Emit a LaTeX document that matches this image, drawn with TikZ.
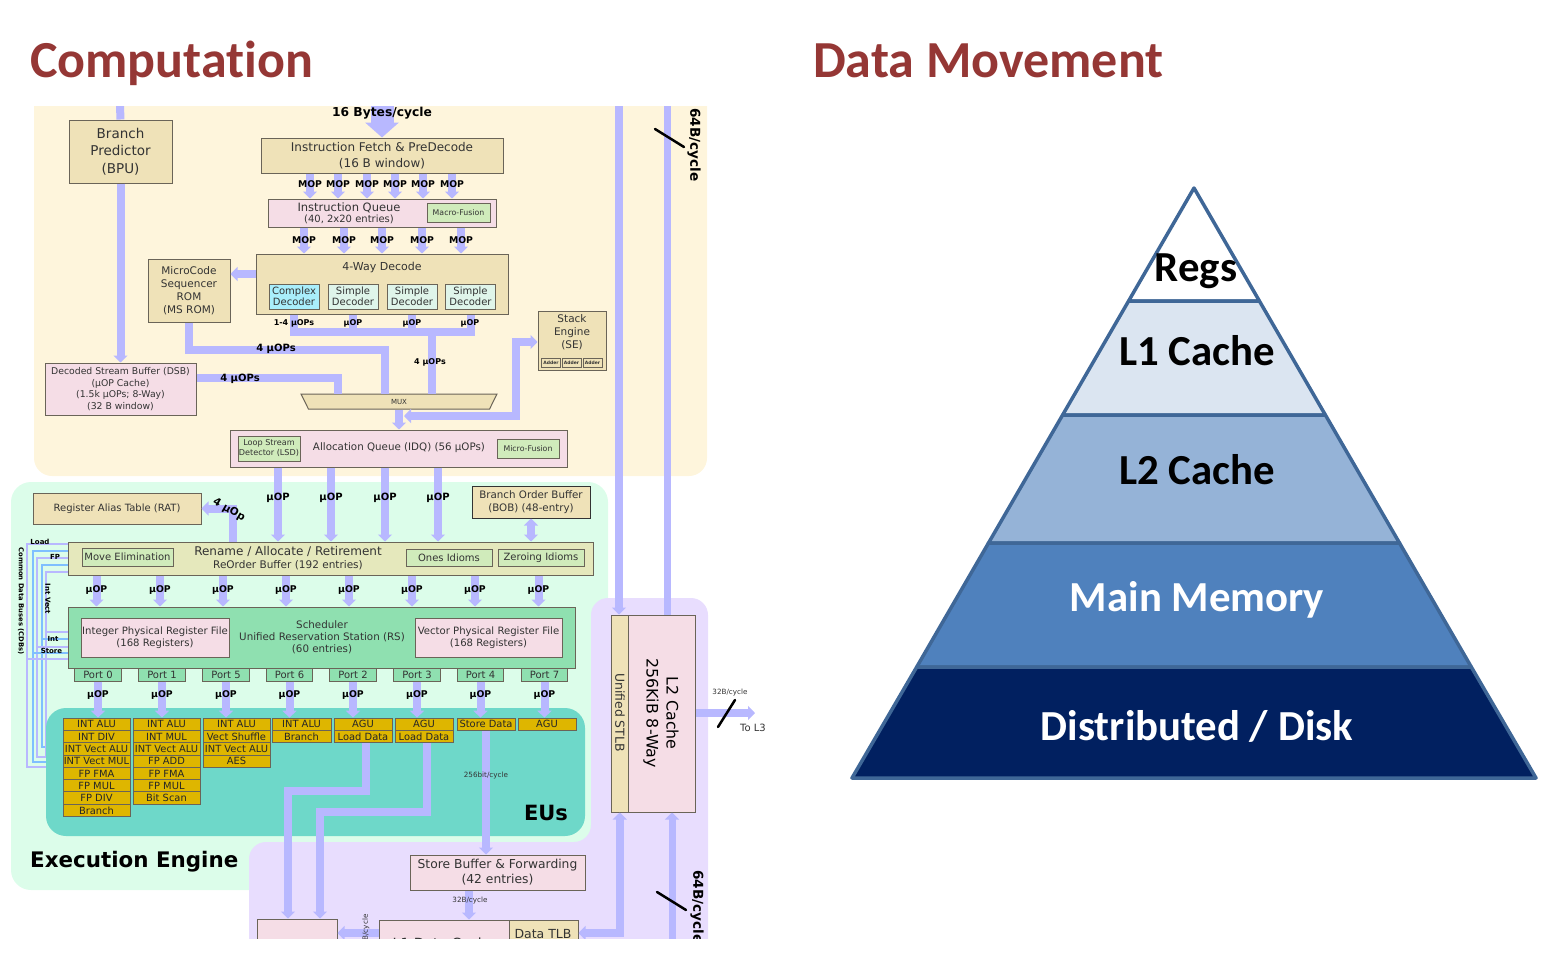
\documentclass[tikz,border=0pt]{standalone}
\usepackage{fontspec}
\setmainfont{DejaVu Sans}
\newfontfamily\calib{Carlito}[Ligatures=NoCommon]
\usetikzlibrary{arrows.meta}
\usetikzlibrary{shapes.geometric}

\definecolor{frontc}{HTML}{FEF5DC}
\definecolor{execc}{HTML}{DCFDEA}
\definecolor{memc}{HTML}{E8DDFE}
\definecolor{teale}{HTML}{6ED8C9}
\definecolor{busc}{HTML}{B8B8FF}
\definecolor{tanc}{HTML}{EFE2B8}
\definecolor{pinkc}{HTML}{F5DDE6}
\definecolor{olivec}{HTML}{E5E8BC}
\definecolor{greenc}{HTML}{D0EBBB}
\definecolor{schedc}{HTML}{8FE0B0}
\definecolor{goldc}{HTML}{DEB600}
\definecolor{cplxc}{HTML}{A9EEFB}
\definecolor{simpc}{HTML}{DFF5EA}
\definecolor{edgec}{HTML}{6A6458}
\definecolor{cdbc}{HTML}{7FBFFF}
\definecolor{titlec}{HTML}{953735}
\definecolor{pyredge}{HTML}{3F6797}
\definecolor{layb}{HTML}{DBE5F1}
\definecolor{layc}{HTML}{95B3D7}
\definecolor{layd}{HTML}{4F81BD}
\definecolor{laye}{HTML}{012060}

\tikzset{
  fs/.style 2 args={font=\fontsize{#1}{#2}\selectfont},
  unit/.style={draw=edgec, line width=1pt, inner sep=0pt, align=center, text=black!80, fs={10.5}{13}},
  tanbox/.style={unit, fill=tanc},
  pinkbox/.style={unit, fill=pinkc},
  olivebox/.style={unit, fill=olivec},
  greenbox/.style={unit, fill=greenc},
  schedbox/.style={unit, fill=schedc},
  txt/.style={inner sep=0pt, align=center, text=black!80},
  buslab/.style={inner sep=0pt, yshift=-1pt, text=black, font=\fontsize{#1}{#1}\selectfont\bfseries},
  buslab/.default=9.3,
  bus/.style={draw=busc, line width=8pt},
  cdba/.style={draw=busc, line width=1.8pt},
  cdbb/.style={draw=cdbc, line width=1.8pt},
  stackrow/.style={draw=edgec, fill=goldc, line width=.8pt, inner sep=0pt,
    minimum height=12.3pt, text=black!85, fs={9.9}{11}},
  slash/.style={line width=2.5pt, line cap=round, draw=black},
  layer/.style={draw=pyredge, line width=3.5pt, line join=round},
  pyrlab/.style={inner sep=0pt, font=\calib\fontsize{42.8}{43}\selectfont\bfseries},
  heading/.style={inner sep=0pt, anchor=base west, text=titlec, font=\calib\fontsize{52}{52}\selectfont\bfseries}
}

\begin{document}
\begin{tikzpicture}[x=1pt, y=-1pt, >={Triangle[width=14pt,length=7pt]}]
\useasboundingbox (0,0) rectangle (1556,956);

\node[heading] (comptitle) at (30,77) {Computation};
\node[heading] (datatitle) at (813,77) {Data Movement};

\begin{scope}
\clip (0,106) rectangle (1556,938);

\fill[frontc, rounded corners=18pt] (34,60) -- (34,476) -- (707,476) -- (707,60) -- cycle;
\fill[execc, rounded corners=20pt] (11,482) rectangle (608,890);
\fill[memc, rounded corners=17pt] (249,980) -- (249,842) -- (591,842) -- (591,598) -- (708,598) -- (708,980) -- cycle;

\coordinate (fetchtop) at (382,106);
\coordinate (bputop) at (120,106);
\coordinate (stlbtop) at (619,106);
\coordinate (l2top) at (667.5,106);
\coordinate (l2bot) at (672,960);
\coordinate (tol3) at (755,713);

\node[tanbox, minimum width=103pt, minimum height=63pt, fs={13.5}{17.5}] (bpu) at (120.5,151.5)
  {Branch\\Predictor\\(BPU)};
\node[tanbox, minimum width=242pt, minimum height=35pt, fs={12}{15.5}] (fetch) at (382,155.5)
  {Instruction Fetch \& PreDecode\\(16 B window)};
\node[pinkbox, minimum width=228pt, minimum height=28pt] (queue) at (382,213) {};
\node[txt, fs={11.5}{11.5}] (queuetext) at (349,213) {Instruction Queue\\[-.5pt]\fontsize{10}{11}\selectfont(40, 2x20 entries)};
\node[greenbox, minimum width=63pt, minimum height=19pt, fs={7.8}{9}] (macro) at (458.5,212.5) {Macro-Fusion};
\node[tanbox, minimum width=252pt, minimum height=60pt] (decode) at (382,284) {};
\node[txt, fs={11}{13}] (decodetext) at (382,267) {4-Way Decode};
\node[unit, fill=cplxc, minimum width=50pt, minimum height=25pt, fs={10}{11.5}] (dec0) at (294,296.5) {Complex\\Decoder};
\foreach \x [count=\i] in {353,412,470.5}
  \node[unit, fill=simpc, minimum width=50pt, minimum height=25pt, fs={10}{11.5}] (dec\i) at (\x,296.5) {Simple\\Decoder};
\node[tanbox, minimum width=82pt, minimum height=63pt] (rom) at (189,290.5)
  {MicroCode\\Sequencer\\ROM\\(MS ROM)};
\node[pinkbox, minimum width=151pt, minimum height=52pt, fs={9.3}{11.5}] (dsb) at (120.5,389)
  {Decoded Stream Buffer (DSB)\\(µOP Cache)\\(1.5k µOPs; 8-Way)\\(32 B window)};
\node[tanbox, trapezium, shape border rotate=180, trapezium angle=35, trapezium stretches body=true,
  minimum width=196pt, minimum height=15pt, fs={7}{8}] (mux) at (399,401.5) {MUX};
\node[tanbox, minimum width=68pt, minimum height=59pt] (se) at (572,340.5) {};
\node[txt, fs={10.5}{13}] (setext) at (572,332) {Stack\\Engine\\(SE)};
\foreach \x [count=\i] in {551,571.5,592.5}
  \node[unit, fill=tanc, line width=.7pt, minimum width=19pt, minimum height=9pt, font=\fontsize{4.5}{5}\selectfont\bfseries] (adder\i) at (\x,362.5) {Adder};

\node[pinkbox, minimum width=337pt, minimum height=37pt] (idq) at (398.5,448.5) {};
\node[greenbox, minimum width=62pt, minimum height=25pt, fs={8.1}{10}] (lsd) at (269,448.5) {Loop Stream\\Detector (LSD)};
\node[txt, fs={10.3}{12}] (idqtext) at (399,448) {Allocation Queue (IDQ) (56 µOPs)};
\node[greenbox, minimum width=62pt, minimum height=19pt, fs={7.8}{9}] (microf) at (528,448.5) {Micro-Fusion};

\node[tanbox, minimum width=168pt, minimum height=31pt, fs={10}{13}] (rat) at (117,508.5) {Register Alias Table (RAT)};
\node[tanbox, draw=black!80, minimum width=118pt, minimum height=32pt, fs={10.3}{13}] (bob) at (531,502)
  {Branch Order Buffer\\(BOB) (48-entry)};
\node[olivebox, minimum width=525pt, minimum height=33pt] (rename) at (330.5,558.5) {};
\node[txt, fs={12}{12.5}] (renametext) at (288,558) {Rename / Allocate / Retirement\\\fontsize{10.5}{12}\selectfont ReOrder Buffer (192 entries)};
\node[greenbox, minimum width=91pt, minimum height=18pt, fs={10}{11}] (moveel) at (127.5,557) {Move Elimination};
\node[greenbox, minimum width=86pt, minimum height=17pt, fs={10}{11}] (ones) at (449,557.5) {Ones Idioms};
\node[greenbox, minimum width=86pt, minimum height=17pt, fs={10}{11}] (zero) at (541,557.5) {Zeroing Idioms};

\node[schedbox, minimum width=507pt, minimum height=61pt] (sched) at (321.5,637.5) {};
\node[pinkbox, minimum width=148pt, minimum height=39pt, fs={10.1}{12}] (intprf) at (155,637.5)
  {Integer Physical Register File\\(168 Registers)};
\node[pinkbox, minimum width=147pt, minimum height=39pt, fs={10.1}{12}] (vecprf) at (488.5,637.5)
  {Vector Physical Register File\\(168 Registers)};
\node[txt, fs={10.3}{12}] (schedtext) at (322,637) {Scheduler\\Unified Reservation Station (RS)\\(60 entries)};
\foreach \p/\x in {0/98,1/162,5/226,6/289.5,2/353,3/417,4/480.5,7/544.5}
  \node[schedbox, minimum width=46.5pt, minimum height=13pt, fs={10}{11}] (port\p) at (\x,674.5) {Port \p};

\draw[cdba] (rename.west |- 0,544) -| (27,767) -- ++(33,0);
\draw[cdbb] (rename.west |- 0,551) -| (33,762) -- ++(33,0);
\draw[cdba] (rename.west |- 0,558) -| (37,757) -- ++(33,0);
\draw[cdbb] (rename.west |- 0,565) -| (42,747) -- ++(33,0);
\draw[cdba] (rename.west |- 0,572) -| (46,757) -- ++(33,0);
\draw[cdba] (sched.west |- 0,632) -- ++(-22,0);
\draw[cdbb] (sched.west |- 0,639) -- ++(-26,0);
\draw[cdba] (sched.west |- 0,647) -- ++(-31,0);
\draw[cdbb] (sched.west |- 0,653) -- ++(-35,0);
\draw[cdba] (sched.west |- 0,659) -- ++(-41,0);

\node[fill=teale, rounded corners=20pt, minimum width=539pt, minimum height=128pt] (eus) at (315.5,772) {};

\foreach \t [count=\i] in {INT ALU,INT DIV,INT Vect ALU,INT Vect MUL,FP FMA,FP MUL,FP DIV,Branch}
  \node[stackrow, minimum width=67pt] (stack0r\i) at (96.5,{711.9+\i*12.3}) {\t};
\foreach \t [count=\i] in {INT ALU,INT MUL,INT Vect ALU,FP ADD,FP FMA,FP MUL,Bit Scan}
  \node[stackrow, minimum width=67pt] (stack1r\i) at (166.5,{711.9+\i*12.3}) {\t};
\foreach \t [count=\i] in {INT ALU,Vect Shuffle,INT Vect ALU,AES}
  \node[stackrow, minimum width=67pt] (stack5r\i) at (236.5,{711.9+\i*12.3}) {\t};
\foreach \t [count=\i] in {INT ALU,Branch}
  \node[stackrow, minimum width=59pt] (stack6r\i) at (301.5,{711.9+\i*12.3}) {\t};
\foreach \t [count=\i] in {AGU,Load Data}
  \node[stackrow, minimum width=58pt] (stack2r\i) at (363,{711.9+\i*12.3}) {\t};
\foreach \t [count=\i] in {AGU,Load Data}
  \node[stackrow, minimum width=58pt] (stack3r\i) at (424,{711.9+\i*12.3}) {\t};
\node[stackrow, minimum width=58pt] (stack4r1) at (486,724.2) {Store Data};
\node[stackrow, minimum width=58pt] (stack7r1) at (547,724.2) {AGU};

\node[pinkbox, minimum width=175pt, minimum height=35pt, fs={12.3}{15}] (storebuf) at (497.5,872.5)
  {Store Buffer \& Forwarding\\(42 entries)};
\node[pinkbox, minimum width=80pt, minimum height=60pt] (loadbuf) at (297,949) {};
\node[pinkbox, minimum width=130pt, minimum height=46pt, fs={14}{16}] (l1d) at (444,943) {L1 Data Cache};
\node[tanbox, minimum width=69pt, minimum height=46pt] (dtlb) at (543.5,943) {};
\node[txt, fs={12.5}{14}] (dtlbtext) at (543,934) {Data TLB};
\node[tanbox, minimum width=17.5pt, minimum height=197pt] (stlb) at (619.75,713.5) {};
\node[pinkbox, minimum width=66.5pt, minimum height=197pt] (l2) at (662,713.5) {};
\node[txt, rotate=-90, fs={12.4}{13}] (stlbtext) at (620,712.5) {Unified STLB};
\node[txt, text=black, rotate=-90, fs={15.8}{20}] (l2text) at (661,713) {L2 Cache\\256KiB 8-Way};

\draw[bus] (bputop) -- (bpu.north);
\draw[bus,->] (bpu.south) -- (dsb.north -| bpu.south);
\draw[bus, line width=23pt, ->, >={Triangle[width=33pt,length=15pt]}] (fetchtop) -- (fetch.north);
\foreach \x in {310,338,367,395,423,452} {
  \draw[bus,->] (fetch.south -| \x,0) -- (queue.north -| \x,0);
  \node[buslab] (mopa\x) at (\x,183) {MOP};
}
\foreach \x in {304,344,382,422,461} {
  \draw[bus,->] (queue.south -| \x,0) -- (decode.north -| \x,0);
  \node[buslab] (mopb\x) at (\x,239) {MOP};
}
\draw[bus,->] (decode.west |- 0,274) -- (rom.east |- 0,274);
\draw[bus] (dec0.south |- decode.south) |- (dec3.south |- 0,332) -- (dec3.south |- decode.south);
\foreach \i in {1,2}
  \draw[bus] (dec\i.south |- decode.south) -- (dec\i.south |- 0,332);
\draw[bus] (mux.north -| 432,0) -- (432,328);
\draw[bus] (rom.south) |- (385,350) -- (mux.north -| 385,0);
\draw[bus] (dsb.east |- 0,378) -| (mux.north -| 338,0);
\draw[bus,->] (mux.south -| 399,0) -- (idq.north -| 399,0);
\draw[bus,<->] (se.west |- 0,342) -| (516,416) -- (404,416);
\foreach \x in {278,331,385,438} {
  \draw[bus,->] (idq.south -| \x,0) -- (rename.north -| \x,0);
  \node[buslab=10] (uopa\x) at (\x,497) {µOP};
}
\draw[bus,->] (rename.north -| 233,0) |- (rat.east);
\draw[bus,<->] (bob.south) -- (rename.north -| bob.south);
\foreach \x [count=\i] in {96.5,160,223,286,349,412,475,538.5} {
  \draw[bus,->] (rename.south -| \x,0) -- (sched.north -| \x,0);
  \node[buslab] (uopb\i) at (\x,589) {µOP};
}
\foreach \p/\x in {0/98,1/162,5/226,6/289.5,2/353,3/417,4/480.5,7/544.5} {
  \draw[bus,->] (port\p.south) -- (stack\p r1.north -| port\p.south);
  \node[buslab] (uopc\p) at (\x,694) {µOP};
}
\draw[bus,->] (stack2r2.south -| 366,0) |- (288,791) -- (loadbuf.north -| 288,0);
\draw[bus,->] (stack3r2.south -| 427,0) |- (320,812) -- (loadbuf.north -| 320,0);
\draw[bus,->] (stack4r1.south) -- (storebuf.north -| stack4r1.south);
\draw[bus,->] (storebuf.south -| 469,0) -- (l1d.north -| 469,0);
\draw[bus,->] (l1d.west |- 0,933) -- (loadbuf.east |- 0,933);
\draw[bus,<->] (dtlb.east |- 0,933) -| (stlb.south);
\draw[bus,->] (stlbtop) -- (stlb.north -| stlbtop);
\draw[bus, line width=7pt] (l2top) -- (l2.north -| l2top);
\draw[bus, line width=7pt, ->] (l2bot) -- (l2.south -| l2bot);
\draw[bus,->] (l2.east |- tol3) -- (tol3);

\draw[slash] (655,129) -- (684,147);
\draw[slash] (657,892) -- (686,910);
\draw[slash] (718,727) -- (735,700);

\node[buslab=8] (uopd0) at (294,322) {1-4 µOPs};
\foreach \x in {353,412,470}
  \node[buslab=8] (uopd\x) at (\x,322) {µOP};
\node[buslab=10] (bwrom) at (276,348) {4 µOPs};
\node[buslab=10] (bwdsb) at (240,378) {4 µOPs};
\node[buslab=8] (bwdec) at (430,361) {4 µOPs};
\node[buslab=12.3] (bwfetch) at (382,112) {16 Bytes/cycle};
\node[buslab=10.5, rotate=-30] (bwrat) at (229,509) {4 µOp};
\node[buslab=13.6, rotate=-90] (bwtop) at (694,144) {64B/cycle};
\node[buslab=13.6, rotate=-90] (bwbot) at (697,906) {64B/cycle};
\node[txt, fs={7.2}{8}] (bwstore) at (486,776) {256bit/cycle};
\node[txt, fs={7.2}{8}] (bwsb) at (470,901) {32B/cycle};
\node[txt, fs={7.2}{8}, rotate=90] (bwld) at (366,932) {32B/cycle};
\node[txt, fs={7.2}{8}] (bwl3) at (730,693) {32B/cycle};
\node[txt, fs={10}{11}] (tol3text) at (753,728) {To L3};

\node[buslab=7] (cdbload) at (40,541) {Load};
\node[buslab=7] (cdbfp) at (55,556) {FP};
\node[buslab=7] (cdbint) at (53,638) {Int};
\node[buslab=7] (cdbstore) at (51.5,650) {Store};
\node[buslab=7, rotate=-90] (cdbvect) at (48,598) {Int Vect};
\node[buslab=6.8, rotate=-90] (cdbname) at (21,600) {Common Data Buses (CDBs)};

\node[buslab=21] (eutext) at (546,812) {EUs};
\node[buslab=21.4, anchor=west] (exectext) at (30,861) {Execution Engine};
\end{scope}

\filldraw[layer, fill=white] (1194,188) -- (1259.4,301) -- (1128.6,301) -- cycle;
\filldraw[layer, fill=layb] (1128.6,301) -- (1259.4,301) -- (1325.4,415) -- (1062.6,415) -- cycle;
\filldraw[layer, fill=layc] (1062.6,415) -- (1325.4,415) -- (1399.5,543) -- (988.5,543) -- cycle;
\filldraw[layer, fill=layd] (988.5,543) -- (1399.5,543) -- (1471.3,667) -- (916.7,667) -- cycle;
\filldraw[layer, fill=laye] (916.7,667) -- (1471.3,667) -- (1536,778) -- (852,778) -- cycle;
\node[pyrlab] (regs) at (1196,271) {Regs};
\node[pyrlab] (lone) at (1197,351) {L1 Cache};
\node[pyrlab] (ltwo) at (1197,470) {L2 Cache};
\node[pyrlab, text=white] (mainmem) at (1197,600) {Main Memory};
\node[pyrlab, text=white] (disk) at (1197,726) {Distributed / Disk};
\end{tikzpicture}
\end{document}
